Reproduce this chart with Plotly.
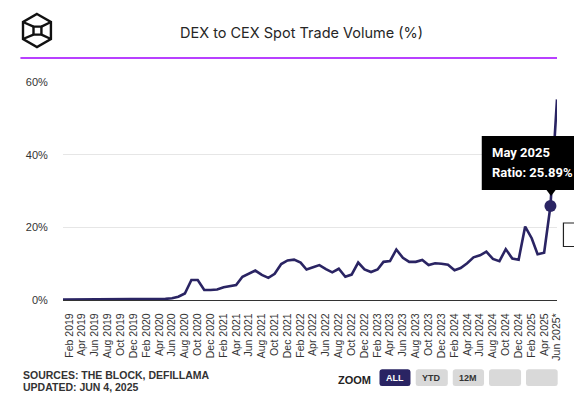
import pandas as pd
import plotly.graph_objects as go

# ---------------- data ----------------
months = pd.date_range("2019-01-01", "2025-06-01", freq="MS").strftime("%Y-%m-%d").tolist()

ratio_pct = [
    0.1, 0.1, 0.1, 0.1, 0.1, 0.1, 0.15, 0.15, 0.2, 0.2, 0.3, 0.3,          # 2019
    0.3, 0.3, 0.3, 0.3, 0.3, 0.5, 0.9, 1.8, 5.5, 5.5, 2.75, 2.75,          # 2020
    2.9, 3.5, 3.7, 4.1, 6.4, 7.2, 8.1, 6.9, 6.1, 7.2, 9.9, 10.9,           # 2021
    11.1, 10.3, 8.4, 9.0, 9.6, 8.5, 7.6, 8.6, 6.4, 7.0, 10.3, 8.4,         # 2022
    7.7, 8.4, 10.5, 10.7, 13.9, 11.6, 10.5, 10.5, 11.0, 9.6, 10.1, 10.0,   # 2023
    9.7, 8.2, 8.8, 10.1, 11.75, 12.3, 13.3, 11.3, 10.7, 14.0, 11.4, 11.1,  # 2024
    20.2, 17.0, 12.6, 13.0, 25.89, 55.2,                                   # 2025
]

tick_dates = [
    "2019-02-01", "2019-04-01", "2019-06-01", "2019-08-01", "2019-10-01", "2019-12-01",
    "2020-02-01", "2020-04-01", "2020-06-01", "2020-08-01", "2020-10-01", "2020-12-01",
    "2021-02-01", "2021-04-01", "2021-06-01", "2021-08-01", "2021-10-01", "2021-12-01",
    "2022-02-01", "2022-04-01", "2022-06-01", "2022-08-01", "2022-10-01", "2022-12-01",
    "2023-02-01", "2023-04-01", "2023-06-01", "2023-08-01", "2023-10-01", "2023-12-01",
    "2024-02-01", "2024-04-01", "2024-06-01", "2024-08-01", "2024-10-01", "2024-12-01",
    "2025-02-01", "2025-04-01", "2025-06-01",
]
tick_labels = [
    "Feb 2019", "Apr 2019", "Jun 2019", "Aug 2019", "Oct 2019", "Dec 2019",
    "Feb 2020", "Apr 2020", "Jun 2020", "Aug 2020", "Oct 2020", "Dec 2020",
    "Feb 2021", "Apr 2021", "Jun 2021", "Aug 2021", "Oct 2021", "Dec 2021",
    "Feb 2022", "Apr 2022", "Jun 2022", "Aug 2022", "Oct 2022", "Dec 2022",
    "Feb 2023", "Apr 2023", "Jun 2023", "Aug 2023", "Oct 2023", "Dec 2023",
    "Feb 2024", "Apr 2024", "Jun 2024", "Aug 2024", "Oct 2024", "Dec 2024",
    "Feb 2025", "Apr 2025", "Jun 2025*",
]
y_ticks = [0, 20, 40, 60]
y_tick_labels = ["0%", "20%", "40%", "60%"]

highlight_index = 76  # May 2025
zoom_buttons = ["ALL", "YTD", "12M", "", ""]

# ---------------- geometry helpers (pixel -> paper) ----------------
W, H = 574, 395
L, R, T, B = 63, 562, 82, 300


def px(x):
    return (x - L) / (R - L)


def py(y):
    return (B - y) / (B - T)


def path(points, close=True):
    s = "M " + " L ".join(f"{px(x):.5f},{py(y):.5f}" for x, y in points)
    return s + (" Z" if close else "")


def rrect(x0, y0, x1, y1, r):
    P = lambda x, y: f"{px(x):.5f},{py(y):.5f}"
    return (f"M {P(x0 + r, y0)} L {P(x1 - r, y0)} Q {P(x1, y0)} {P(x1, y0 + r)} "
            f"L {P(x1, y1 - r)} Q {P(x1, y1)} {P(x1 - r, y1)} L {P(x0 + r, y1)} "
            f"Q {P(x0, y1)} {P(x0, y1 - r)} L {P(x0, y0 + r)} Q {P(x0, y0)} {P(x0 + r, y0)} Z")


LINE = "#2a2463"
TXT = "#333333"

fig = go.Figure()
fig.add_trace(go.Scatter(
    x=months, y=ratio_pct, mode="lines",
    line=dict(color=LINE, width=2.6), hoverinfo="skip", showlegend=False,
))

shapes = []
annotations = []

# header rule
shapes.append(dict(type="line", xref="paper", yref="paper",
                   x0=px(20), x1=px(562), y0=py(58), y1=py(58),
                   line=dict(color="#a000ff", width=1.5)))

# logo (cube)
hexagon = [(36.7, 14), (50.8, 22), (50.8, 39), (36.7, 47), (22.6, 39), (22.6, 22)]
inner = [(33.2, 26.6), (41.2, 26.6), (41.2, 34.6), (33.2, 34.6)]
logo_line = dict(color="#111111", width=2.4)
shapes.append(dict(type="path", xref="paper", yref="paper", path=path(hexagon), line=logo_line))
shapes.append(dict(type="path", xref="paper", yref="paper", path=path(inner), line=logo_line))
for a, b in [(hexagon[5], inner[0]), (hexagon[1], inner[1]), (hexagon[2], inner[2]), (hexagon[4], inner[3])]:
    shapes.append(dict(type="path", xref="paper", yref="paper", path=path([a, b], close=False), line=logo_line))

annotations.append(dict(xref="paper", yref="paper", x=px(304), y=py(32), text="DEX to CEX Spot Trade Volume (%)",
                        showarrow=False, xanchor="center", yanchor="middle",
                        font=dict(family="Inter", size=14.5, color="#262626")))

# tooltip
shapes.append(dict(type="rect", xref="paper", yref="paper", x0=px(486), x1=px(580), y0=py(136), y1=py(190),
                   fillcolor="#000000", line=dict(width=0), layer="above"))
shapes.append(dict(type="path", xref="paper", yref="paper",
                   path=path([(551, 189.5), (561, 189.5), (556, 196)]),
                   fillcolor="#000000", line=dict(width=0), layer="above"))
annotations.append(dict(xref="paper", yref="paper", x=px(494), y=py(152), text="<b>May 2025</b>",
                        showarrow=False, xanchor="left", yanchor="middle",
                        font=dict(family="Roboto", size=13, color="white")))
annotations.append(dict(xref="paper", yref="paper", x=px(494), y=py(172),
                        text=f"<b>Ratio: {ratio_pct[highlight_index]:.2f}%</b>",
                        showarrow=False, xanchor="left", yanchor="middle",
                        font=dict(family="Roboto", size=13, color="white")))
# partial box at right edge
shapes.append(dict(type="rect", xref="paper", yref="paper", x0=px(568.5), x1=px(580), y0=py(223), y1=py(246.5),
                   fillcolor="white", line=dict(color="#222222", width=1.2), layer="above"))

fig.add_trace(go.Scatter(
    x=[months[highlight_index]], y=[ratio_pct[highlight_index]], mode="markers",
    marker=dict(color=LINE, size=12, line=dict(width=0)), hoverinfo="skip", showlegend=False,
))

# footer
annotations.append(dict(xref="paper", yref="paper", x=px(21), y=py(374.5), text="<b>SOURCES: THE BLOCK, DEFILLAMA</b>",
                        showarrow=False, xanchor="left", yanchor="middle",
                        font=dict(family="Liberation Sans", size=10.5, color=TXT)))
annotations.append(dict(xref="paper", yref="paper", x=px(21), y=py(387), text="<b>UPDATED: JUN 4, 2025</b>",
                        showarrow=False, xanchor="left", yanchor="middle",
                        font=dict(family="Liberation Sans", size=10.5, color=TXT)))
annotations.append(dict(xref="paper", yref="paper", x=px(376), y=py(379.5), text="<b>ZOOM</b>",
                        showarrow=False, xanchor="right", yanchor="middle",
                        font=dict(family="Liberation Sans", size=11, color="#222222")))

btn_x = [(382.7, 414), (419.3, 451.7), (456.7, 488.3), (493.3, 525.7), (530.7, 562.7)]
for i, (lbl, (x0, x1)) in enumerate(zip(zoom_buttons, btn_x)):
    active = i == 0
    shapes.append(dict(type="path", xref="paper", yref="paper", path=rrect(x0, 369.3, x1, 386, 2.5),
                       fillcolor=LINE if active else "#d9d9d9", line=dict(width=0)))
    if lbl:
        annotations.append(dict(xref="paper", yref="paper", x=px((x0 + x1) / 2), y=py(378), text=f"<b>{lbl}</b>",
                                showarrow=False, xanchor="center", yanchor="middle",
                                font=dict(family="Liberation Sans", size=9, color="white" if active else "#333333")))

fig.update_layout(
    width=W, height=H,
    margin=dict(l=L, r=W - R, t=T, b=H - B, pad=0),
    paper_bgcolor="white", plot_bgcolor="white",
    shapes=shapes, annotations=annotations,
    showlegend=False, hovermode=False,
    xaxis=dict(
        type="date", range=[months[0], months[-1]],
        tickmode="array", tickvals=tick_dates, ticktext=tick_labels,
        tickangle=-90, tickfont=dict(family="Liberation Sans", size=10.5, color=TXT),
        showgrid=False, showline=True, linecolor="#333333", linewidth=1.3,
        ticks="outside", ticklen=8, tickcolor="rgba(0,0,0,0)", zeroline=False,
    ),
    yaxis=dict(
        range=[0, 60], tickmode="array", tickvals=y_ticks, ticktext=y_tick_labels,
        tickfont=dict(family="Liberation Sans", size=11, color=TXT),
        showgrid=True, gridcolor="#e6e6e6", gridwidth=1, zeroline=False,
        showline=False, ticks="outside", ticklen=12, tickcolor="rgba(0,0,0,0)",
    ),
)

fig.write_html(
    "out.html",
    config={"displayModeBar": False},
    post_script="document.body.style.margin='0';document.body.style.padding='0';document.body.style.overflow='hidden';",
)
